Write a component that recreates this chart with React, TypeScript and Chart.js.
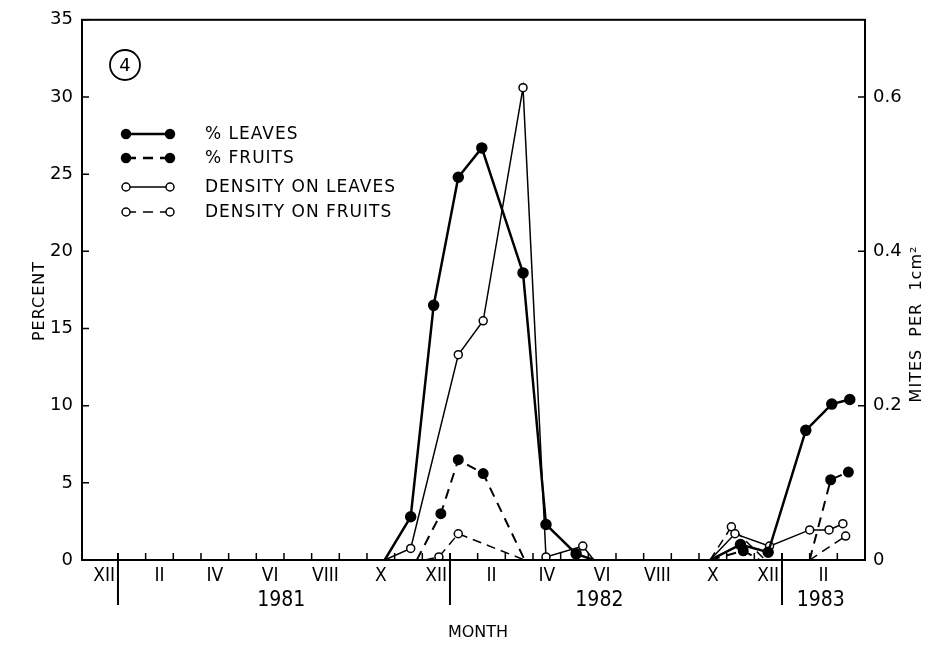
import React, { useEffect, useRef } from "react";
import { Chart, registerables } from "chart.js";
Chart.register(...registerables);

// ---- axis text ----
const monthLabelPos = [-0.5, 1.5, 3.5, 5.5, 7.5, 9.5, 11.5, 13.5, 15.5, 17.5, 19.5, 21.5, 23.5, 25.5];
const monthLabels = ["XII", "II", "IV", "VI", "VIII", "X", "XII", "II", "IV", "VI", "VIII", "X", "XII", "II"];
const yearLabels = ["1981", "1982", "1983"];
const yearLabelPos = [5.9, 17.4, 25.4];
const yearDividers = [0, 12, 24];
const percentTicks = [0, 5, 10, 15, 20, 25, 30, 35];
const densityTicks = [0, 0.2, 0.4, 0.6];

// ---- data (x = months since 1 Jan 1981) ----
const leavesMonths = [9.64, 10.58, 11.41, 12.3, 13.15, 14.64, 15.47, 16.56, 17.2, null, 21.4, 22.5, 23.5, 24.86, 25.8, 26.45];
const leavesPct = [0, 2.8, 16.5, 24.8, 26.7, 18.6, 2.3, 0.4, 0, null, 0, 1.0, 0.5, 8.4, 10.1, 10.4];

const fruitsMonths = [10.8, 11.67, 12.3, 13.2, 14.7, null, 21.4, 22.6, 23.2, null, 25.0, 25.76, 26.4];
const fruitsPct = [0, 3.0, 6.5, 5.6, 0, null, 0, 0.6, 0, null, 0, 5.2, 5.7];

const densLeavesMonths = [9.64, 10.58, 12.3, 13.2, 14.64, 15.47, 16.8, 17.2, null, 21.4, 22.3, 23.55, 25.0, 25.7, 26.2];
const densLeaves = [0, 0.015, 0.266, 0.31, 0.612, 0.004, 0.018, 0, null, 0, 0.034, 0.018, 0.039, 0.039, 0.047];

const densFruitsMonths = [11.1, 11.6, 12.3, 14.7, null, 21.4, 22.17, 23.4, null, 25.0, 26.3];
const densFruits = [0, 0.004, 0.034, 0, null, 0, 0.043, 0, null, 0, 0.031];

const legendLabels = ["% LEAVES", "% FRUITS", "DENSITY ON LEAVES", "DENSITY ON FRUITS"];

const SANS = "'DejaVu Sans', sans-serif";
const NARROW = "'Liberation Sans Narrow', 'DejaVu Sans Condensed', sans-serif";

function pts(months: (number | null)[], values: (number | null)[]) {
  return months.map((m, i) => ({ x: m, y: values[i] }));
}

const radiusFn = (r: number) => (c: any) => (c.raw && c.raw.y === 0 ? 0 : r);

const framePlugin = {
  id: "frame",
  afterDraw(chart: any) {
    const { ctx, chartArea: a, scales } = chart;
    const xs = scales.x, ys = scales.y, y2 = scales.y2;
    ctx.save();
    ctx.strokeStyle = "#000";
    ctx.fillStyle = "#000";
    ctx.setLineDash([]);
    // frame
    ctx.lineWidth = 2;
    ctx.strokeRect(a.left, a.top, a.right - a.left, a.bottom - a.top);
    // inward ticks
    ctx.lineWidth = 1.5;
    ctx.beginPath();
    for (const v of percentTicks) {
      const py = ys.getPixelForValue(v);
      ctx.moveTo(a.left, py);
      ctx.lineTo(a.left + 7, py);
    }
    for (const v of densityTicks) {
      const py = y2.getPixelForValue(v);
      ctx.moveTo(a.right, py);
      ctx.lineTo(a.right - 7, py);
    }
    for (let m = 1; m < 27; m++) {
      if (yearDividers.includes(m)) continue;
      const px = xs.getPixelForValue(m);
      ctx.moveTo(px, a.bottom);
      ctx.lineTo(px, a.bottom - 7);
    }
    ctx.stroke();
    // year dividers
    ctx.lineWidth = 2;
    ctx.beginPath();
    for (const m of yearDividers) {
      const px = xs.getPixelForValue(m);
      ctx.moveTo(px, a.bottom - 7);
      ctx.lineTo(px, a.bottom + 45);
    }
    ctx.stroke();
    // year labels
    ctx.font = `21px ${NARROW}`;
    ctx.textAlign = "center";
    ctx.textBaseline = "middle";
    yearLabels.forEach((t, i) => ctx.fillText(t, xs.getPixelForValue(yearLabelPos[i]), a.bottom + 41));
    // axis titles
    ctx.font = `16px ${SANS}`;
    ctx.fillText("MONTH", 478, a.bottom + 73);
    (ctx as any).letterSpacing = "1px";
    ctx.save();
    ctx.translate(40, 301);
    ctx.rotate(-Math.PI / 2);
    ctx.fillText("PERCENT", 0, 0);
    ctx.restore();
    ctx.save();
    ctx.translate(917, 324);
    ctx.rotate(-Math.PI / 2);
    ctx.fillText("MITES  PER  1cm\u00B2", 0, 0);
    ctx.restore();
    (ctx as any).letterSpacing = "0px";
    // panel number
    ctx.lineWidth = 1.8;
    ctx.beginPath();
    ctx.arc(125, 65, 15, 0, Math.PI * 2);
    ctx.stroke();
    ctx.font = `18px ${SANS}`;
    ctx.fillText("4", 125, 66);
    // legend
    const rows = [134, 158, 187, 212];
    const x0 = 126, x1 = 170;
    rows.forEach((ry, i) => {
      const filled = i < 2;
      const dashed = i % 2 === 1;
      ctx.lineWidth = filled ? 2.5 : 1.5;
      ctx.setLineDash(dashed ? [10, 7] : []);
      ctx.beginPath();
      ctx.moveTo(x0, ry);
      ctx.lineTo(x1, ry);
      ctx.stroke();
      ctx.setLineDash([]);
      for (const cx of [x0, x1]) {
        ctx.beginPath();
        ctx.arc(cx, ry, filled ? 4.5 : 4, 0, Math.PI * 2);
        ctx.fillStyle = filled ? "#000" : "#fff";
        ctx.fill();
        ctx.lineWidth = 1.5;
        ctx.stroke();
      }
      ctx.fillStyle = "#000";
      ctx.textAlign = "left";
      ctx.font = `17px ${SANS}`;
      (ctx as any).letterSpacing = "1px";
      ctx.fillText(legendLabels[i], 205, ry + 1);
      (ctx as any).letterSpacing = "0px";
    });
    ctx.restore();
  },
};

export default function App() {
  const ref = useRef<HTMLCanvasElement | null>(null);
  useEffect(() => {
    if (!ref.current) return;
    const chart = new Chart(ref.current, {
      type: "line",
      data: {
        datasets: [
          {
            data: pts(leavesMonths, leavesPct) as any,
            yAxisID: "y",
            borderColor: "#000",
            borderWidth: 2.5,
            pointBackgroundColor: "#000",
            pointBorderColor: "#000",
            pointRadius: radiusFn(4.5) as any,
            tension: 0,
          },
          {
            data: pts(fruitsMonths, fruitsPct) as any,
            yAxisID: "y",
            borderColor: "#000",
            borderWidth: 2,
            borderDash: [10, 7],
            pointBackgroundColor: "#000",
            pointBorderColor: "#000",
            pointRadius: radiusFn(4.5) as any,
            tension: 0,
          },
          {
            data: pts(densLeavesMonths, densLeaves) as any,
            yAxisID: "y2",
            borderColor: "#000",
            borderWidth: 1.5,
            pointBackgroundColor: "#fff",
            pointBorderColor: "#000",
            pointBorderWidth: 1.5,
            pointRadius: radiusFn(4) as any,
            tension: 0,
          },
          {
            data: pts(densFruitsMonths, densFruits) as any,
            yAxisID: "y2",
            borderColor: "#000",
            borderWidth: 1.5,
            borderDash: [9, 6],
            pointBackgroundColor: "#fff",
            pointBorderColor: "#000",
            pointBorderWidth: 1.5,
            pointRadius: radiusFn(4) as any,
            tension: 0,
          },
        ],
      },
      options: {
        responsive: false,
        animation: false,
        layout: { padding: { top: 17, left: 0, right: 0, bottom: 0 } },
        plugins: { legend: { display: false }, tooltip: { enabled: false } },
        scales: {
          x: {
            type: "linear",
            min: -1.3,
            max: 27,
            afterBuildTicks: (s: any) => {
              s.ticks = monthLabelPos.map((v) => ({ value: v }));
            },
            afterFit: (s: any) => {
              s.height = 85;
            },
            ticks: {
              autoSkip: false,
              maxRotation: 0,
              padding: 5,
              color: "#000",
              font: { family: NARROW, size: 19 },
              callback: (_v: any, i: number) => monthLabels[i],
            },
            grid: { display: false, drawTicks: false },
            border: { display: false },
          },
          y: {
            position: "left",
            min: 0,
            max: 35,
            afterBuildTicks: (s: any) => {
              s.ticks = percentTicks.map((v) => ({ value: v }));
            },
            afterFit: (s: any) => {
              s.width = 82;
            },
            ticks: {
              padding: 9,
              color: "#000",
              font: { family: SANS, size: 18 },
              callback: (v: any) => String(v),
            },
            grid: { display: false, drawTicks: false },
            border: { display: false },
          },
          y2: {
            position: "right",
            min: 0,
            max: 0.7,
            afterBuildTicks: (s: any) => {
              s.ticks = densityTicks.map((v) => ({ value: v }));
            },
            afterFit: (s: any) => {
              s.width = 80;
            },
            ticks: {
              padding: 8,
              color: "#000",
              font: { family: SANS, size: 18 },
              callback: (v: any) => (v === 0 ? "0" : Number(v).toFixed(1)),
            },
            grid: { display: false, drawTicks: false },
            border: { display: false },
          },
        },
      },
      plugins: [framePlugin],
    });
    return () => chart.destroy();
  }, []);
  return (
    <canvas
      ref={ref}
      width={945}
      height={645}
      style={{ position: "fixed", left: 0, top: 0, display: "block", background: "#fff" }}
    />
  );
}
